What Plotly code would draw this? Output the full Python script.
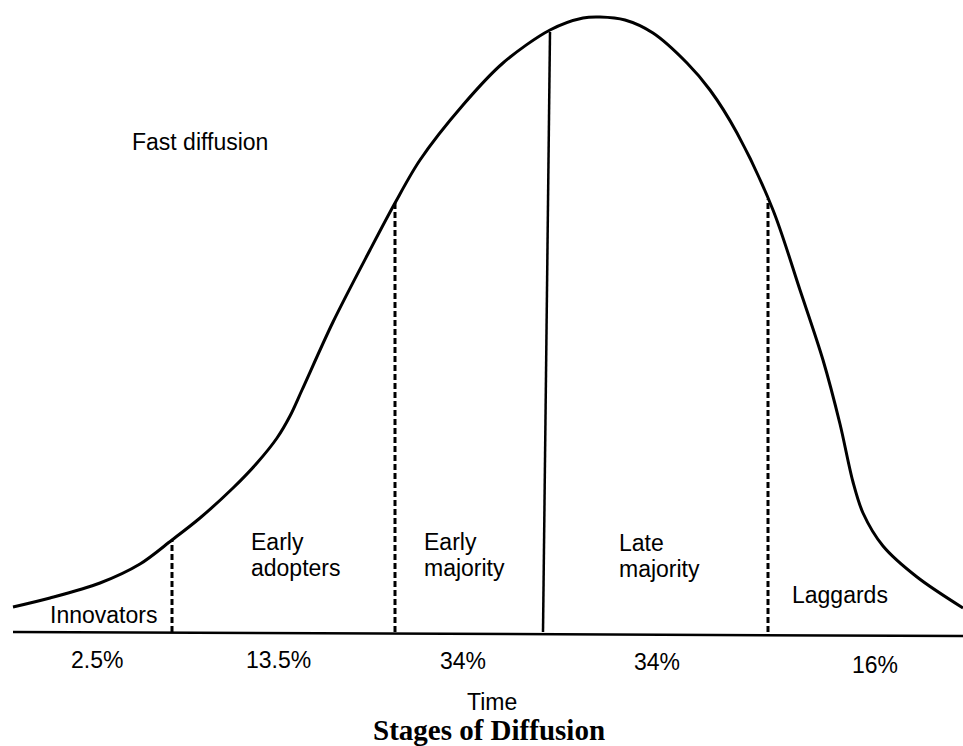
import numpy as np
import plotly.graph_objects as go

# ---- data (time in arbitrary units, adoption level above the baseline) ----
curve_time = [13, 50, 100, 140, 172, 200, 233, 257, 277, 290, 302, 333, 370, 395, 420,
              463, 503, 550, 583, 600, 625, 653, 687, 710, 737, 773, 800, 823, 840, 853,
              863, 883, 917, 963]
curve_pixel = [607, 598, 583, 564, 540, 518, 488, 463, 438, 416, 390, 322, 250, 203, 160,
               105, 63, 30, 18, 17, 20, 33, 63, 90, 133, 210, 290, 360, 424, 482,
               513, 546, 577, 608]
curve_level = [632 - p for p in curve_pixel]

stage_names = [["Innovators"], ["Early", "adopters"], ["Early", "majority"],
               ["Late", "majority"], ["Laggards"]]
stage_shares = ["2.5%", "13.5%", "34%", "34%", "16%"]
stage_bounds = [172, 395, 547, 768]
axis_label = "Time"
chart_title = "Stages of Diffusion"
note_text = "Fast diffusion"

fig = go.Figure()

fig.add_trace(go.Scatter(x=curve_time, y=curve_level, mode="lines",
                         line=dict(color="black", width=3, shape="spline", smoothing=0.9),
                         hoverinfo="skip", showlegend=False))

# baseline
fig.add_shape(type="line", x0=curve_time[0], x1=963, y0=0, y1=-4,
              line=dict(color="black", width=2.5))

# stage boundaries
for i, b in enumerate(stage_bounds):
    top = float(np.interp(b, curve_time, curve_level))
    if i == 2:
        fig.add_shape(type="line", x0=b - 4, x1=b + 3, y0=0, y1=top,
                      line=dict(color="black", width=2.5))
    else:
        fig.add_shape(type="line", x0=b, x1=b, y0=0, y1=top,
                      line=dict(color="black", width=3, dash="6px,3px"))

font = dict(family="Liberation Sans, Arial, sans-serif", size=23, color="black")

# stage names (x, first-line y, anchor)
name_pos = [(103, 615, "center"), (249, 542, "left"), (422, 542, "left"),
            (617, 543, "left"), (790, 595, "left")]
for lines, (px, py, anc) in zip(stage_names, name_pos):
    for k, line in enumerate(lines):
        fig.add_annotation(x=px, y=632 - (py + 26 * k), text=line, showarrow=False,
                           xanchor=anc, yanchor="middle", font=font)

# shares
share_pos = [(97, 660), (278, 660), (463, 661), (657, 662), (875, 665)]
for s, (px, py) in zip(stage_shares, share_pos):
    fig.add_annotation(x=px, y=632 - py, text=s, showarrow=False, xanchor="center",
                       yanchor="middle", font=font)

fig.add_annotation(x=200, y=632 - 142, text=note_text, showarrow=False, xanchor="center",
                   yanchor="middle", font=font)
fig.add_annotation(x=492, y=632 - 702, text=axis_label, showarrow=False, xanchor="center",
                   yanchor="middle", font=font, borderpad=0)
fig.add_annotation(x=489, y=632 - 730, text="<b>" + chart_title + "</b>", showarrow=False,
                   xanchor="center", yanchor="middle", borderpad=0,
                   font=dict(family="Liberation Serif, Times New Roman, serif", size=29, color="black"))

fig.update_layout(width=963, height=746, margin=dict(l=0, r=0, t=0, b=0),
                  paper_bgcolor="white", plot_bgcolor="white", showlegend=False)
fig.update_xaxes(range=[0, 963], visible=False, fixedrange=True)
fig.update_yaxes(range=[632 - 746, 632], visible=False, fixedrange=True)

fig.write_html("out.html", config={"displayModeBar": False},
               post_script="document.body.style.margin='0';")
